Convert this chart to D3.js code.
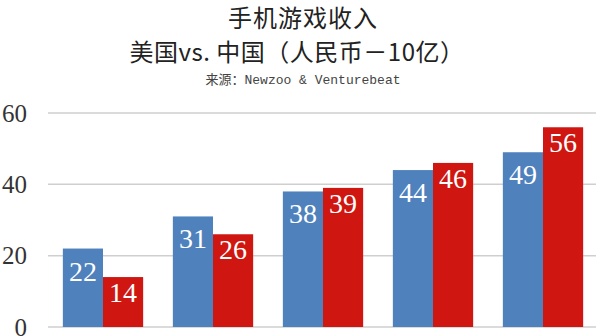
<!DOCTYPE html>
<html>
<head>
<meta charset="utf-8">
<script src="https://cdn.jsdelivr.net/npm/d3@7"></script>
<style>
  body { margin: 0; background: #fff; }
  svg { display: block; }
</style>
</head>
<body>
<div id="chart"></div>
<script>
// values (RMB, 10 億)
var groups = ["g1", "g2", "g3", "g4", "g5"];
var seriesNames = ["美国", "中国"];
var usValues = [22, 31, 38, 44, 49];
var cnValues = [14, 26, 39, 46, 56];
var yTicks = [0, 20, 40, 60];

var titleLines = ["手机游戏收入", "美国vs. 中国（人民币－10亿）"];
var sourceLabel = "来源：";
var sourceText = "Newzoo & Venturebeat";

var colors = {"美国": "#4f81bd", "中国": "#cf1610"};
var serif = "'Liberation Serif', 'Times New Roman', 'DejaVu Serif', serif";

var width = 600, height = 336;
var margin = {top: 113, right: 2, bottom: 9, left: 48};

var svg = d3.select("#chart")
    .append("svg")
    .attr("width", width)
    .attr("height", height);

// titles
svg.append("text")
    .attr("x", 303).attr("y", 27)
    .attr("text-anchor", "middle")
    .style("font-family", "'Noto Sans CJK SC'")
    .style("font-size", "24px")
    .style("letter-spacing", "1px")
    .style("fill", "#222")
    .text(titleLines[0]);

svg.append("text")
    .attr("x", 297).attr("y", 61)
    .attr("text-anchor", "middle")
    .style("font-family", "'Noto Sans CJK SC'")
    .style("font-size", "24px")
    .style("letter-spacing", "0.5px")
    .style("fill", "#222")
    .text(titleLines[1]);

var src = svg.append("text")
    .attr("x", 303).attr("y", 84)
    .attr("text-anchor", "middle")
    .style("font-size", "13px")
    .style("fill", "#444");
src.append("tspan").style("font-family", "'Noto Sans CJK SC'").text(sourceLabel);
src.append("tspan").style("font-family", "'Liberation Mono'").text(sourceText);

var g = svg.append("g");

var y = d3.scaleLinear()
    .domain([0, 60])
    .range([height - margin.bottom, margin.top]);

var x0 = d3.scaleBand()
    .domain(groups)
    .range([margin.left, width - margin.right])
    .paddingInner(0.27)
    .paddingOuter(0.135);

var x1 = d3.scaleBand()
    .domain(seriesNames)
    .range([0, x0.bandwidth()]);

// gridlines
g.selectAll(".grid")
    .data(yTicks)
    .enter().append("line")
    .attr("class", "grid")
    .attr("x1", margin.left)
    .attr("x2", width - margin.right - 2)
    .attr("y1", d => y(d))
    .attr("y2", d => y(d))
    .style("stroke", "#cfcfcf")
    .style("stroke-width", 1.5);

// y axis labels
var yAxis = d3.axisLeft(y).tickValues(yTicks).tickSize(0).tickPadding(0);
var ya = g.append("g")
    .attr("transform", "translate(27,0)")
    .call(yAxis)
    .attr("font-family", serif)
    .attr("font-size", 25);
ya.select(".domain").remove();
ya.selectAll("text").style("fill", "#333");

var rows = groups.map((k, i) => ({key: k, values: [
    {name: seriesNames[0], value: usValues[i]},
    {name: seriesNames[1], value: cnValues[i]}
]}));

var grp = g.selectAll(".grp")
    .data(rows)
    .enter().append("g")
    .attr("class", "grp")
    .attr("transform", d => "translate(" + x0(d.key) + ",0)");

grp.selectAll("rect")
    .data(d => d.values)
    .enter().append("rect")
    .attr("x", d => x1(d.name))
    .attr("width", x1.bandwidth())
    .attr("y", d => y(d.value))
    .attr("height", d => y(0) - y(d.value))
    .style("fill", d => colors[d.name]);

// value labels inside the bar tops
grp.selectAll(".lbl")
    .data(d => d.values)
    .enter().append("text")
    .attr("class", "lbl")
    .attr("x", d => x1(d.name) + x1.bandwidth() / 2)
    .attr("y", d => y(d.value) + (d.name === seriesNames[0] ? 32 : 25))
    .attr("text-anchor", "middle")
    .attr("font-family", serif)
    .attr("font-size", 28)
    .style("fill", "#fff")
    .text(d => d.value);
</script>
</body>
</html>
